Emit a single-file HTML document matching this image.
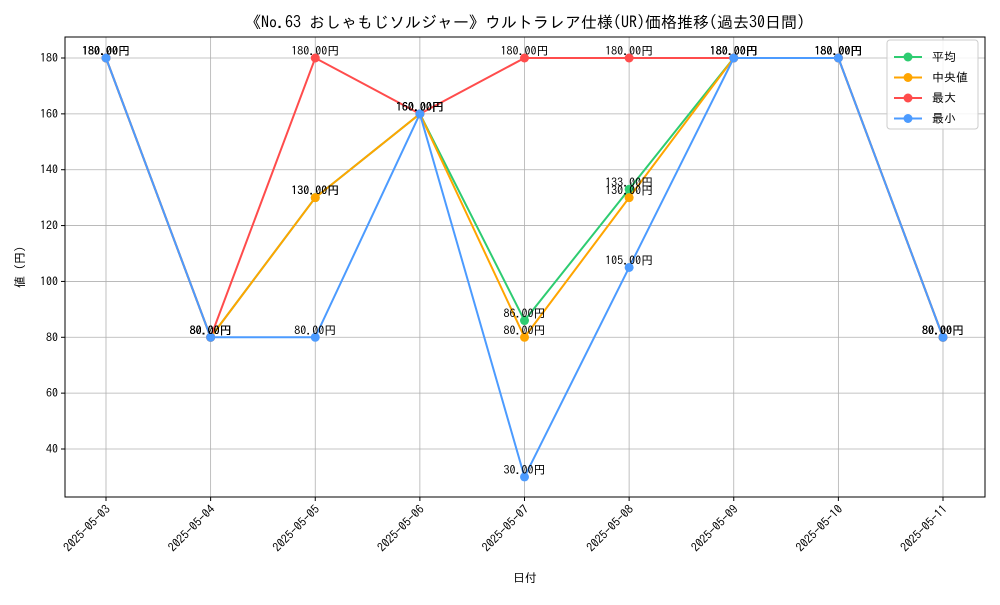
<!DOCTYPE html>
<html><head><meta charset="utf-8"><style>
body{margin:0;background:#fff;}
text{font-family:"IPAGothic","Noto Sans CJK JP",monospace;}
</style></head><body>
<svg id="chart" width="1000" height="600" xmlns="http://www.w3.org/2000/svg">
<rect width="1000" height="600" fill="#fff"/>
<text x="525" y="28" font-size="16" text-anchor="middle">《No.63 おしゃもじソルジャー》ウルトラレア仕様(UR)価格推移(過去30日間)</text>
<g id="grid"></g><g id="axes"></g><g id="series"></g><g id="labels"></g>
<rect x="65" y="37" width="920" height="460" fill="none" stroke="#000" stroke-width="1"/>
<text x="525" y="582" font-size="12" text-anchor="middle">日付</text>
<text x="24" y="267" font-size="12" text-anchor="middle" transform="rotate(-90 24 267)">値 (円)</text>
<g id="legend">
<rect x="887" y="40" width="91" height="89" rx="3" fill="#fff" fill-opacity="0.85" stroke="#ccc"/>
</g>
</svg>
<script>
const categories=["2025-05-03","2025-05-04","2025-05-05","2025-05-06","2025-05-07","2025-05-08","2025-05-09","2025-05-10","2025-05-11"];
const avgValues=[180,80,130,160,86,133,180,180,80];
const medianValues=[180,80,130,160,80,130,180,180,80];
const maxValues=[180,80,180,160,180,180,180,180,80];
const minValues=[180,80,80,160,30,105,180,180,80];
const yTicks=[40,60,80,100,120,140,160,180];
const seriesNames=["平均","中央値","最大","最小"];
const NS="http://www.w3.org/2000/svg";
function xs(i){return 106+i*(943-106)/(categories.length-1);}
function ys(v){return 58+(180-v)*(449-58)/140;}
function mk(tag,attrs,parent){const e=document.createElementNS(NS,tag);for(const k in attrs)e.setAttribute(k,attrs[k]);parent.appendChild(e);return e;}
const grid=document.getElementById('grid'),axes=document.getElementById('axes'),ser=document.getElementById('series'),lab=document.getElementById('labels'),leg=document.getElementById('legend');
categories.forEach((c,i)=>{
 const x=xs(i);
 const g=mk('line',{x1:x,x2:x,y1:37,y2:497,stroke:'#b0b0b0','stroke-width':0.8},grid);
 
 
 mk('line',{x1:x,x2:x,y1:497,y2:501,stroke:'#000'},axes);
 const t=mk('text',{x:x+5,y:510,'font-size':12,'text-anchor':'end',transform:`rotate(-45 ${x+5} 510)`},axes);
 t.textContent=c;
 
 
});
yTicks.forEach(v=>{
 const y=ys(v);
 const g=mk('line',{x1:65,x2:985,y1:y,y2:y,stroke:'#b0b0b0','stroke-width':0.8},grid);
 
 
 mk('line',{x1:61,x2:65,y1:y,y2:y,stroke:'#000'},axes);
 const t=mk('text',{x:58,y:y+4,'font-size':12,'text-anchor':'end'},axes);
 t.textContent=v;
 
 
});
const all=[avgValues,medianValues,maxValues,minValues];
const colors=["#2ecc71","#ffa500","#ff4c4c","#4c9bff"];
const keys=["average","median","max","min"];
all.forEach((vals,s)=>{
 const pl=mk('polyline',{points:vals.map((v,i)=>xs(i)+','+ys(v)).join(' '),fill:'none',stroke:colors[s],'stroke-width':2},ser);
 
 
 vals.forEach((v,i)=>{
  const c=mk('circle',{cx:xs(i),cy:ys(v),r:4.5,fill:colors[s]},ser);
  
  
  const t=mk('text',{x:xs(i),y:ys(v)-3,'font-size':12,'text-anchor':'middle',fill:'#000'},lab);
  t.textContent=v.toFixed(2)+'円';
  
  
 });
 const y=57+s*20.5;
 const g=mk('g',{},leg);
 
 
 mk('line',{x1:894,x2:922,y1:y,y2:y,stroke:colors[s],'stroke-width':2},g);
 mk('circle',{cx:908,cy:y,r:4.5,fill:colors[s]},g);
 const t=mk('text',{x:932,y:y+4,'font-size':12},g);
 t.textContent=seriesNames[s];
});
</script>
</body></html>
